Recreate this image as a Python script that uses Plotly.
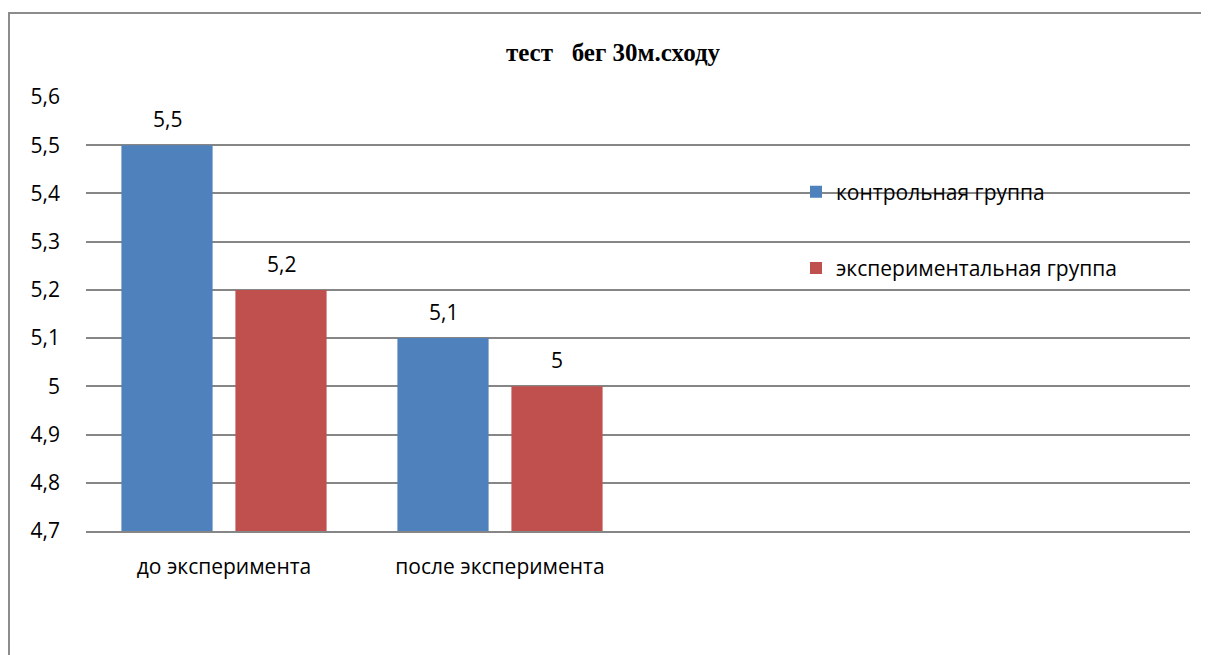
import plotly.graph_objects as go

categories = ["до эксперимента", "после эксперимента"]
series_names = ["контрольная группа", "экспериментальная группа"]
control_values = [5.5, 5.1]
experimental_values = [5.2, 5.0]
colors = ["#4F81BD", "#C0504D"]
y_ticks = [4.7, 4.8, 4.9, 5.0, 5.1, 5.2, 5.3, 5.4, 5.5, 5.6]
title_text = "тест\u00a0\u00a0\u00a0бег 30м.сходу"

FONT = "Open Sans"
FS = 21

# plot area in figure pixels
L, R_EDGE, T, B_EDGE = 78, 1182, 89, 523
PW, PH = R_EDGE - L, B_EDGE - T


def fmt(v):
    s = ("%.1f" % v).rstrip("0").rstrip(".")
    return s.replace(".", ",")


fig = go.Figure()
all_series = [control_values, experimental_values]
for i, (name, vals) in enumerate(zip(series_names, all_series)):
    fig.add_trace(go.Bar(
        x=categories, y=vals, name=name, marker_color=colors[i],
        marker_line_width=0, legendgroup="g%d" % i,
    ))

# data labels
offsets = [-57, 57]
for i, vals in enumerate(all_series):
    for c, v in zip(categories, vals):
        fig.add_annotation(
            x=c, y=v, xref="x", yref="y", text=fmt(v), showarrow=False,
            xshift=offsets[i], yshift=26,
            font=dict(family=FONT, size=FS, color="#000000"),
        )

# outer frame
fig.add_shape(type="rect", xref="paper", yref="paper",
              x0=(1 - L) / PW, x1=(1215 - L) / PW,
              y0=(B_EDGE - 665) / PH, y1=(B_EDGE - 5) / PH,
              line=dict(color="#8C8C8C", width=2), fillcolor="rgba(0,0,0,0)",
              layer="below")

fig.update_layout(
    width=1209, height=655,
    margin=dict(l=L, r=1209 - R_EDGE, t=T, b=655 - B_EDGE),
    paper_bgcolor="white", plot_bgcolor="white",
    separators=", ",
    barmode="group", bargap=0.174, bargroupgap=0.2,
    title=dict(text="<b>" + title_text + "</b>", x=605 / 1209, xanchor="center",
               y=1 - 44 / 655, yanchor="middle",
               font=dict(family="Liberation Serif", size=25, color="#000000")),
    font=dict(family=FONT, size=FS, color="#000000"),
    legend=dict(x=(788 - L) / PW, xanchor="left", y=(B_EDGE - 222) / PH, yanchor="middle",
                tracegroupgap=46, font=dict(family=FONT, size=FS, color="#000000"),
                bgcolor="rgba(0,0,0,0)", itemclick=False),
    showlegend=True,
)
fig.update_xaxes(range=[-0.5, 3.5], showgrid=False, showline=True,
                 linecolor="#868686", linewidth=1.5, ticks="",
                 ticklabelstandoff=16, tickfont=dict(family=FONT, size=FS))
fig.update_yaxes(range=[4.7, 5.6], tickvals=y_ticks, ticktext=[fmt(v) for v in y_ticks],
                 showgrid=True, gridcolor="#868686", gridwidth=1.5,
                 zeroline=False, showline=False, ticks="",
                 ticklabelstandoff=25, tickfont=dict(family=FONT, size=FS))

fig.write_html("out.html")
